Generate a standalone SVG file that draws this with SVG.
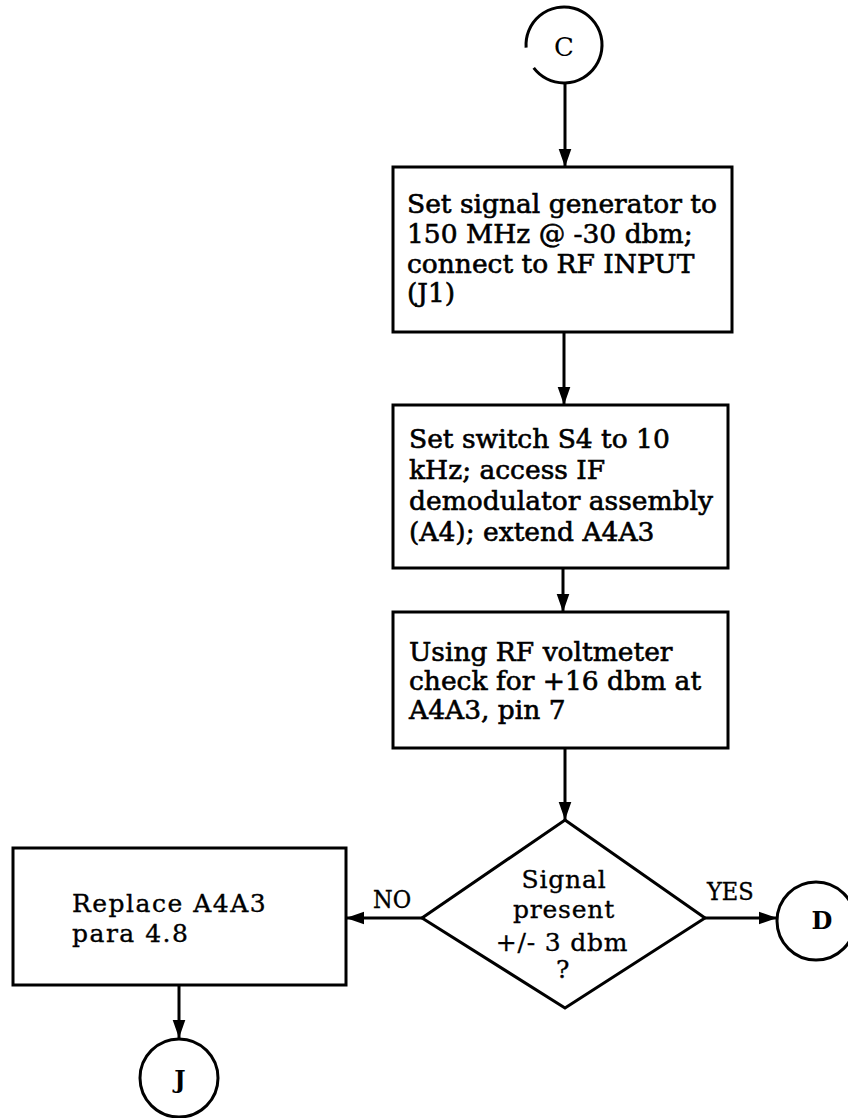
<svg xmlns="http://www.w3.org/2000/svg" width="848" height="1118" viewBox="0 0 848 1118">
<style>
.shape{fill:#fff;stroke:#000;stroke-width:3}
.conn{fill:none;stroke:#000;stroke-width:3}
.t{font-family:"DejaVu Serif","Liberation Serif",serif;font-size:26.5px;fill:#000;stroke:#000;stroke-width:0.6}
.c{font-family:"DejaVu Serif","Liberation Serif",serif;font-size:25px;letter-spacing:0.8px;fill:#000;stroke:#000;stroke-width:0.35}
.n{font-family:"DejaVu Serif","Liberation Serif",serif;font-size:25px;font-stretch:condensed;fill:#000;stroke:#000;stroke-width:0.35}
.b{font-family:"DejaVu Serif","Liberation Serif",serif;font-size:24px;font-weight:bold;fill:#000}
.m{text-anchor:middle}
</style>
<defs>
<marker id="ah" viewBox="0 0 10 10" refX="10" refY="5" markerWidth="6" markerHeight="6" markerUnits="strokeWidth" orient="auto">
<path d="M0,1.5 L10,5 L0,8.5 z" fill="#000"/>
</marker>
</defs>
<rect width="848" height="1118" fill="#fff"/>
<g id="connectors">
<line class="conn" x1="565" y1="83" x2="565" y2="167" marker-end="url(#ah)"/>
<line class="conn" x1="564" y1="332" x2="564" y2="405" marker-end="url(#ah)"/>
<line class="conn" x1="563" y1="568" x2="563" y2="612" marker-end="url(#ah)"/>
<line class="conn" x1="565" y1="748" x2="565" y2="820" marker-end="url(#ah)"/>
<line class="conn" x1="422" y1="918" x2="346" y2="918" marker-end="url(#ah)"/>
<line class="conn" x1="705" y1="918" x2="777" y2="918" marker-end="url(#ah)"/>
<line class="conn" x1="179" y1="985" x2="179" y2="1038" marker-end="url(#ah)"/>
<text class="n" x="373" y="908">NO</text>
<text class="n" x="707" y="900">YES</text>
</g>
<g id="nodeC">
<path class="shape" d="M526.1 47.7 A38 38 0 1 1 533.7 67.9"/>
<text class="c m" x="564" y="56" style="stroke-width:0;letter-spacing:0;font-size:26px">C</text>
</g>
<g id="box1">
<rect class="shape" x="393" y="167" width="339" height="165"/>
<text class="t" x="407" y="213">Set signal generator to</text>
<text class="t" x="407" y="243">150 MHz @ -30 dbm;</text>
<text class="t" x="407" y="273">connect to RF INPUT</text>
<text class="t" x="407" y="302">(J1)</text>
</g>
<g id="box2">
<rect class="shape" x="393" y="405" width="335" height="163"/>
<text class="t" x="409" y="448">Set switch S4 to 10</text>
<text class="t" x="409" y="479">kHz; access IF</text>
<text class="t" x="409" y="510">demodulator assembly</text>
<text class="t" x="409" y="541">(A4); extend A4A3</text>
</g>
<g id="box3">
<rect class="shape" x="393" y="612" width="335" height="136"/>
<text class="t" x="409" y="661">Using RF voltmeter</text>
<text class="t" x="409" y="690">check for +16 dbm at</text>
<text class="t" x="409" y="719">A4A3, pin 7</text>
</g>
<g id="decision">
<polygon class="shape" points="565,820 705,918 565,1008 422,918"/>
<text class="c m" x="564" y="888">Signal</text>
<text class="c m" x="564" y="918">present</text>
<text class="c m" x="562" y="951">+/- 3 dbm</text>
<text class="c m" x="563" y="978">?</text>
</g>
<g id="nodeD">
<circle class="shape" cx="816" cy="921" r="39"/>
<text class="b m" x="822" y="929">D</text>
</g>
<g id="box4">
<rect class="shape" x="13" y="848" width="333" height="137"/>
<text class="c" x="72" y="912" style="letter-spacing:1.5px">Replace A4A3</text>
<text class="c" x="72" y="942" style="letter-spacing:1.5px">para 4.8</text>
</g>
<g id="nodeJ">
<circle class="shape" cx="179" cy="1078" r="39"/>
<text class="b m" x="180" y="1088">J</text>
</g>
</svg>
